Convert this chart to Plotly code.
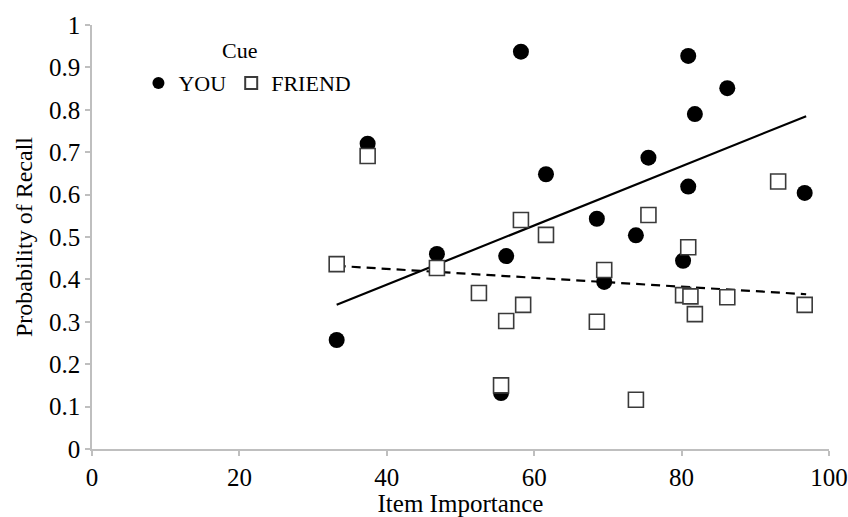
import plotly.graph_objects as go

# Item importance (x) and recall probability for YOU cue
you_x = [33.2, 37.4, 46.8, 55.5, 56.2, 58.2, 61.6, 68.5, 69.5, 73.8, 75.5,
         80.2, 80.9, 80.9, 81.8, 86.2, 93.1, 96.7]
you_y = [0.257, 0.720, 0.460, 0.132, 0.455, 0.937, 0.648, 0.543, 0.394, 0.504, 0.687,
         0.444, 0.927, 0.619, 0.790, 0.851, 1.002, 0.604]

# FRIEND cue
friend_x = [33.2, 37.4, 46.8, 52.5, 55.5, 56.2, 58.2, 58.5, 61.6, 68.5, 69.5,
            73.8, 75.5, 80.2, 80.9, 81.2, 81.8, 86.2, 93.1, 96.7]
friend_y = [0.436, 0.691, 0.427, 0.368, 0.150, 0.302, 0.540, 0.340, 0.505, 0.300, 0.422,
            0.116, 0.552, 0.363, 0.476, 0.360, 0.318, 0.358, 0.631, 0.340]

# Linear trend line endpoints
you_trend_x = [33.2, 96.9]
you_trend_y = [0.340, 0.785]
friend_trend_x = [33.2, 96.9]
friend_trend_y = [0.432, 0.365]

x_ticks = [0, 20, 40, 60, 80, 100]
y_ticks = [0, 0.1, 0.2, 0.3, 0.4, 0.5, 0.6, 0.7, 0.8, 0.9, 1]
y_tick_text = ["0", "0.1", "0.2", "0.3", "0.4", "0.5", "0.6", "0.7", "0.8", "0.9", "1"]

FONT = "Liberation Serif, Times New Roman, serif"

fig = go.Figure()
fig.add_trace(go.Scatter(x=you_trend_x, y=you_trend_y, mode="lines",
                         line=dict(color="black", width=2.2), showlegend=False,
                         hoverinfo="skip"))
fig.add_trace(go.Scatter(x=friend_trend_x, y=friend_trend_y, mode="lines",
                         line=dict(color="black", width=2.2, dash="9px,6px"),
                         showlegend=False, hoverinfo="skip"))
fig.add_trace(go.Scatter(x=you_x, y=you_y, mode="markers", name="YOU", cliponaxis=False,
                         marker=dict(symbol="circle", size=16, color="black",
                                     line=dict(width=0))))
fig.add_trace(go.Scatter(x=friend_x, y=friend_y, mode="markers", name="FRIEND", cliponaxis=False,
                         marker=dict(symbol="square", size=15, color="white",
                                     line=dict(width=1.6, color="#3a3a3a"))))

fig.add_annotation(text="Cue", xref="paper", yref="paper", x=0.2008, y=0.941,
                   xanchor="center", yanchor="middle",
                   showarrow=False, font=dict(family=FONT, size=22, color="black"))

fig.update_layout(
    width=848, height=517,
    margin=dict(l=92, r=19, t=25, b=68),
    paper_bgcolor="white", plot_bgcolor="white",
    font=dict(family=FONT, color="black"),
    legend=dict(orientation="h", x=0.063, y=0.863, xanchor="left", yanchor="middle",
                font=dict(family=FONT, size=22, color="black"), itemsizing="constant",
                bgcolor="rgba(0,0,0,0)", itemwidth=30, tracegroupgap=0),
    xaxis=dict(range=[0, 100], tickvals=x_ticks, showgrid=False, zeroline=False,
               automargin=False,
               showline=True, linecolor="#bfbfbf", linewidth=1.5,
               ticks="outside", tickcolor="#bfbfbf", ticklen=5, tickwidth=1.5,
               tickfont=dict(family=FONT, size=25, color="black"),
               title=dict(text="Item Importance", font=dict(family=FONT, size=25, color="black"),
                          standoff=11)),
    yaxis=dict(range=[0, 1], tickvals=y_ticks, ticktext=y_tick_text, showgrid=False,
               zeroline=False, showline=True, linecolor="#bfbfbf", linewidth=1.5,
               automargin=False,
               ticks="outside", tickcolor="#bfbfbf", ticklen=5, tickwidth=1.5,
               tickfont=dict(family=FONT, size=25, color="black"),
               title=dict(text="Probability of Recall", font=dict(family=FONT, size=24, color="black"),
                          standoff=10)),
)

fig.write_html("out.html",
               config={"displayModeBar": False},
               post_script="document.body.style.margin='0';"
                           "document.documentElement.style.overflow='hidden';"
                           "document.body.style.overflow='hidden';")
